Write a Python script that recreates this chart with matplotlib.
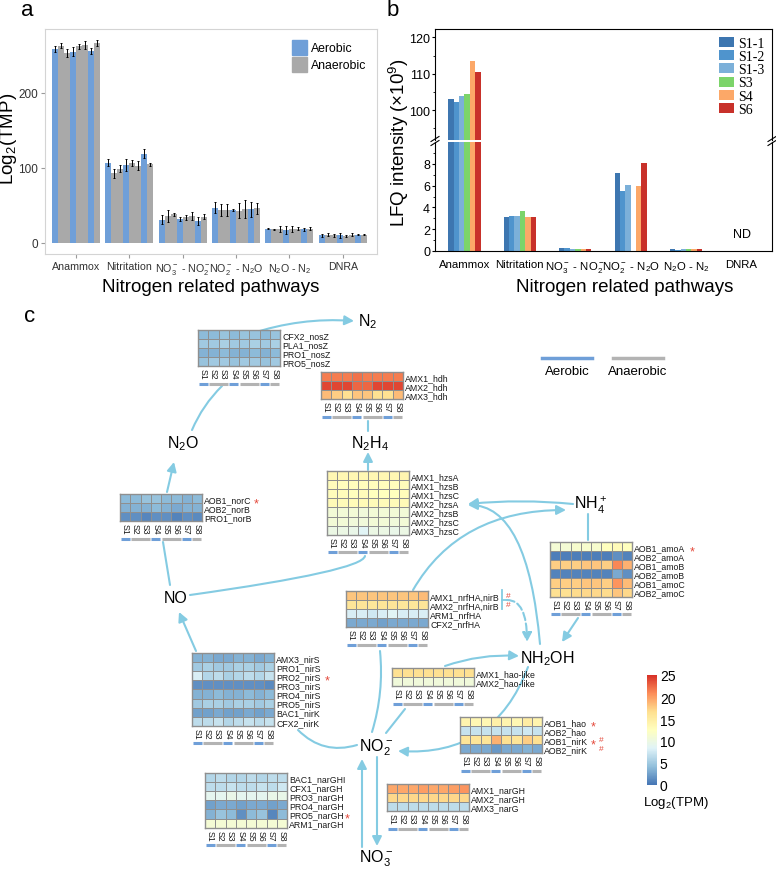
import numpy as np
import matplotlib
matplotlib.use('Agg')
import matplotlib.pyplot as plt
from matplotlib.colors import LinearSegmentedColormap, Normalize
from matplotlib.cm import ScalarMappable
from matplotlib.patches import Patch
from matplotlib.lines import Line2D

plt.rcParams['font.family'] = ['Liberation Sans', 'DejaVu Sans']
plt.rcParams['mathtext.fontset'] = 'custom'
plt.rcParams['mathtext.rm'] = 'Liberation Sans'
plt.rcParams['mathtext.it'] = 'Liberation Sans:italic'
plt.rcParams['mathtext.bf'] = 'Liberation Sans:bold'

# ---------------- data ----------------
pathways = ['Anammox', 'Nitritation', r'NO$_3^-$ - NO$_2^-$', r'NO$_2^-$ - N$_2$O',
            r'N$_2$O - N$_2$', 'DNRA']
samples = ['S1', 'S2', 'S3', 'S4', 'S5', 'S6', 'S7', 'S8']
conditions = ['Aerobic', 'Anaerobic', 'Anaerobic', 'Aerobic',
              'Anaerobic', 'Anaerobic', 'Aerobic', 'Anaerobic']

# panel a: summed log2(TPM) per pathway (rows) and sample (columns)
tpm_mean = [[258, 263, 253, 255, 262, 264, 256, 267],
            [107, 93, 99, 104, 106, 103, 119, 105],
            [31, 36, 38, 32, 34, 36, 29, 35],
            [47, 44, 44, 44, 43, 45, 45, 46],
            [19, 18, 19, 17, 18, 19, 18, 19],
            [10, 11, 10, 10, 9, 11, 11, 11]]
tpm_err = [[4, 3, 5, 6, 3, 5, 4, 4],
           [5, 6, 5, 8, 4, 6, 6, 2],
           [6, 8, 2, 3, 3, 5, 5, 3],
           [7, 8, 8, 1, 10, 12, 10, 7],
           [1, 1, 4, 5, 4, 2, 2, 2],
           [2, 2, 2, 3, 1, 2, 1, 1]]

# panel b: LFQ intensity (x1e9)
lfq_samples = ['S1-1', 'S1-2', 'S1-3', 'S3', 'S4', 'S6']
lfq_colors = ['#3d76b0', '#4f94cd', '#7cb0d9', '#7cd46a', '#fca868', '#c8312a']
lfq_vals = [[103.2, 102.2, 104.0, 104.5, 113.5, 110.5],
            [3.15, 3.2, 3.2, 3.65, 3.1, 3.1],
            [0.25, 0.25, 0.22, 0.2, 0.2, 0.2],
            [7.2, 5.5, 6.1, 0.0, 6.0, 8.1],
            [0.15, 0.13, 0.15, 0.15, 0.15, 0.17],
            [0, 0, 0, 0, 0, 0]]

# panel c heatmaps: log2(TPM) per gene (rows) and sample S1..S8
nosz_genes = ['CFX2_nosZ', 'PLA1_nosZ', 'PRO1_nosZ', 'PRO5_nosZ']
nosz_vals = [[4, 4, 4.5, 4, 4.5, 4.5, 4, 4.5],
             [5, 5, 5.5, 5, 5, 5.5, 5, 5.5],
             [3.5, 3.5, 4, 3.5, 3.5, 4, 3.5, 4],
             [4.5, 5, 5, 4.5, 5, 5, 4.5, 5]]
hdh_genes = ['AMX1_hdh', 'AMX2_hdh', 'AMX3_hdh']
hdh_vals = [[21.5, 21.5, 21.5, 22, 21.5, 21.5, 21.5, 21.5],
            [24, 24, 24, 22.5, 22.5, 24, 24, 24],
            [18.5, 17.5, 16.5, 18, 18, 16.5, 16.5, 18.5]]
nor_genes = ['AOB1_norC', 'AOB2_norB', 'PRO1_norB']
nor_vals = [[4, 4, 4.5, 4.5, 4, 4, 3.5, 4],
            [3.5, 3.5, 3.5, 4, 3.5, 3, 3.5, 3.5],
            [1.5, 1.5, 1, 1.5, 1.5, 0.8, 1.5, 1.2]]
hzs_genes = ['AMX1_hzsA', 'AMX1_hzsB', 'AMX1_hzsC', 'AMX2_hzsA', 'AMX2_hzsB', 'AMX2_hzsC', 'AMX3_hzsC']
hzs_vals = [[13.5, 13.5, 13.5, 13.5, 13.5, 13.5, 13.5, 13.8],
            [12.8, 12.6, 12.6, 12.6, 12.6, 12.6, 12.6, 12.8],
            [12.8, 12.8, 12.5, 12.8, 12.5, 12.5, 12.5, 12.8],
            [13.2, 13, 13, 13.2, 13, 13, 13, 13.2],
            [10.8, 10.8, 10.8, 10.5, 10.8, 10.8, 10.8, 10.8],
            [10.8, 10.8, 10.5, 10.5, 10.8, 10.8, 10.5, 10.8],
            [9.8, 9.8, 9.5, 8.5, 9.8, 9.8, 9.5, 9.8]]
amo_genes = ['AOB1_amoA', 'AOB2_amoA', 'AOB1_amoB', 'AOB2_amoB', 'AOB1_amoC', 'AOB2_amoC']
amo_vals = [[11, 11, 11.5, 11.5, 11.5, 12.5, 13, 12.5],
            [0.5, 0.5, 0.5, 0.5, 0.5, 0.5, 1.5, 0.8],
            [17.5, 17.5, 17.5, 18, 18, 17.5, 21, 19],
            [0.8, 0.8, 0.8, 0.8, 0.8, 0.8, 3, 1.5],
            [17.5, 17.5, 17.5, 18, 18, 17.5, 20.5, 18.5],
            [16.5, 16.5, 16.8, 17, 17, 16.8, 18, 17]]
nrf_genes = ['AMX1_nrfHA,nirB', 'AMX2_nrfHA,nirB', 'ARM1_nrfHA', 'CFX2_nrfHA']
nrf_vals = [[18, 18, 18, 18, 18, 18, 18, 18.5],
            [16, 16, 15.8, 16, 16, 15.8, 15.8, 16],
            [8, 8, 7.5, 8, 8.5, 8, 8, 8],
            [3, 3, 3, 2.5, 3, 3, 3, 3]]
haol_genes = ['AMX1_hao-like', 'AMX2_hao-like']
haol_vals = [[16.5, 16.5, 16.5, 16.5, 16.5, 16.5, 16.5, 16.5],
             [10.5, 10.5, 10.5, 10.5, 10.5, 10.5, 10.5, 10.5]]
nir_genes = ['AMX3_nirS', 'PRO1_nirS', 'PRO2_nirS', 'PRO3_nirS', 'PRO4_nirS', 'PRO5_nirS', 'BAC1_nirK', 'CFX2_nirK']
nir_vals = [[3.5, 3.5, 3, 3, 3.5, 3.5, 3, 3.5],
            [5, 5.5, 5, 5, 5.5, 5.5, 5, 5.5],
            [8, 6, 6.5, 5.5, 6, 6.5, 6, 7],
            [1.5, 1.5, 1.5, 1.5, 1.5, 1.5, 1.5, 1.2],
            [3.5, 3.5, 4, 3.5, 3.5, 4, 3.5, 4],
            [5, 5.5, 5.5, 5, 5.5, 5.5, 5, 5.5],
            [2.5, 2.5, 3, 2.5, 2.5, 3, 2.5, 3],
            [6.5, 6.5, 7, 6, 6.5, 7, 6.5, 7]]
hao_genes = ['AOB1_hao', 'AOB2_hao', 'AOB1_nirK', 'AOB2_nirK']
hao_vals = [[14, 13.5, 13.5, 14.5, 14, 13.5, 15, 14],
            [7, 7, 7, 7, 7, 7, 7.5, 7],
            [16, 16, 16, 19, 16.5, 16, 17.5, 16.5],
            [3, 3, 3, 2, 3, 3, 3.5, 3]]
narl_genes = ['BAC1_narGHI', 'CFX1_narGH', 'PRO3_narGH', 'PRO4_narGH', 'PRO5_narGH', 'ARM1_narGH']
narl_vals = [[6, 6.5, 6, 6, 6.5, 6, 6.5, 6.5],
             [6.5, 6.5, 7, 6.5, 6.5, 7, 6.5, 7.5],
             [9, 9, 9.5, 9, 9, 9, 9.5, 9.5],
             [2.5, 3, 3, 2.5, 3, 3, 2.5, 3],
             [3.5, 4.5, 4, 1.5, 4, 4.5, 1, 4],
             [11, 11, 11, 11, 11, 11, 11, 11]]
narr_genes = ['AMX1_narGH', 'AMX2_narGH', 'AMX3_narG']
narr_vals = [[19.5, 19.5, 19.5, 20, 19.5, 19.5, 20, 20.5],
             [17, 17, 17, 17, 17, 17, 17, 17],
             [6.5, 6.5, 6.5, 6.5, 6.5, 6.5, 6.5, 6.5]]

# ---------------- figure ----------------
W, H = 776, 870
fig = plt.figure(figsize=(W / 100, H / 100), dpi=100)

BLUE = '#6f9fd8'
GRAY = '#a9a9a9'
ACOL = '#84cbe2'
RED = '#e4483a'


def fbox(x0, y0, x1, y1):
    return [x0 / W, 1 - y1 / H, (x1 - x0) / W, (y1 - y0) / H]


def fline(xs, ys, **kw):
    fig.add_artist(Line2D([v / W for v in xs], [1 - v / H for v in ys],
                          transform=fig.transFigure, **kw))


# diagram layer in pixel coordinates, added first so heatmaps cover it
dg = fig.add_axes([0, 0, 1, 1])
dg.set_xlim(0, W)
dg.set_ylim(H, 0)
dg.axis('off')

x = np.arange(len(pathways))

# ---- panel a ----
ax = fig.add_axes(fbox(45, 30, 377, 255))
tm = np.array(tpm_mean)
te = np.array(tpm_err)
bw = 0.1125
for j in range(len(samples)):
    col = BLUE if conditions[j] == 'Aerobic' else GRAY
    ax.bar(x + (j - 3.5) * bw, tm[:, j], bw, yerr=te[:, j], color=col,
           error_kw=dict(ecolor='black', elinewidth=0.7, capsize=1, capthick=0.7))
ax.set_xlim(-0.58, 5.64)
ax.set_ylim(-15, 285)
ax.set_yticks([0, 100, 200])
ax.set_xticks(x)
ax.set_xticklabels(pathways, fontsize=7.7)
ax.tick_params(axis='y', labelsize=8.5)
ax.tick_params(color='#9a9a9a', length=3, labelcolor='#333333', pad=2)
for s in ax.spines.values():
    s.set_color('#d4d4d4')
ax.legend(handles=[Patch(color=BLUE, label='Aerobic'), Patch(color=GRAY, label='Anaerobic')],
          loc='upper right', bbox_to_anchor=(1.0, 1.0), frameon=False, fontsize=8.8,
          handlelength=1.25, handleheight=1.5, labelspacing=0.15, handletextpad=0.3)
fig.text(9 / W, 1 - 139 / H, 'Log$_2$(TMP)', rotation=90, fontsize=13.5, ha='center', va='center')
fig.text(211 / W, 1 - 287 / H, 'Nitrogen related pathways', fontsize=13.5, ha='center', va='center')

# ---- panel b (broken axis) ----
lv = np.array(lfq_vals)
axt = fig.add_axes(fbox(435, 30, 772, 141))
axb = fig.add_axes(fbox(435, 143, 772, 252))
bw2 = 0.097
for a_ in (axt, axb):
    for j, s in enumerate(lfq_samples):
        a_.bar(x + (j - 2.5) * bw2, lv[:, j], bw2, color=lfq_colors[j], label=s)
    a_.set_xlim(-0.53, 5.55)
    for s in a_.spines.values():
        s.set_linewidth(0.8)
    a_.tick_params(labelsize=9, length=2.5, pad=1)
    a_.tick_params(which='minor', length=1.8)
axt.set_ylim(91.8, 122.3)
axt.set_yticks([100, 110, 120])
axt.set_yticks([95, 105, 115], minor=True)
axt.set_xticks([])
axt.spines['bottom'].set_visible(False)
axb.set_ylim(0, 10)
axb.set_yticks([0, 2, 4, 6, 8])
axb.set_yticks([1, 3, 5, 7, 9], minor=True)
axb.spines['top'].set_visible(False)
axb.set_xticks(x)
axb.set_xticklabels(pathways, fontsize=8.2)
axb.tick_params(axis='x', length=0, pad=6)
axb.text(5.0, 1.6, 'ND', ha='center', va='center', fontsize=9)
axt.legend(loc='upper right', bbox_to_anchor=(1.0, 1.0), frameon=False,
           prop={'family': 'Liberation Serif', 'size': 10}, handlelength=1.1,
           handleheight=0.72, labelspacing=0.02, handletextpad=0.3,
           borderaxespad=0.35, borderpad=0.2)
for bx in (435, 772):
    for dy in (-2, 2):
        fline([bx - 4, bx + 4], [142 + dy + 2.5, 142 + dy - 2.5], color='black', lw=0.8)
fig.text(399 / W, 1 - 143 / H, 'LFQ intensity (×10$^9$)', rotation=90, fontsize=13.5,
         ha='center', va='center')
fig.text(625 / W, 1 - 287 / H, 'Nitrogen related pathways', fontsize=13.5, ha='center', va='center')

fig.text(27 / W, 1 - 11 / H, 'a', fontsize=16, ha='center', va='center')
fig.text(393 / W, 1 - 11 / H, 'b', fontsize=16, ha='center', va='center')
fig.text(30 / W, 1 - 316 / H, 'c', fontsize=16, ha='center', va='center')

# ---- panel c ----
cmap = LinearSegmentedColormap.from_list(
    'tpm', ['#4575b4', '#91bfdb', '#e0f3f8', '#ffffbf', '#fee090', '#fc8d59', '#d73027'])
CW, CH = 10.25, 9.1

runs = []
start = 0
for j in range(1, len(samples) + 1):
    if j == len(samples) or conditions[j] != conditions[start]:
        runs.append((start, j, conditions[start]))
        start = j


def heatmap(x0, y0, genes, vals):
    n = len(genes)
    hx = fig.add_axes(fbox(x0, y0, x0 + 8 * CW, y0 + n * CH))
    hx.pcolormesh(np.array(vals), cmap=cmap, vmin=0, vmax=25,
                  edgecolors='#8f8f8f', linewidth=0.7)
    hx.set_xlim(0, 8)
    hx.set_ylim(n, 0)
    hx.set_xticks(np.arange(8) + 0.5)
    hx.set_xticklabels(samples, rotation=270, fontsize=6.3, ha='center', va='top')
    hx.set_yticks(np.arange(n) + 0.5)
    hx.set_yticklabels(genes, fontsize=6.3)
    hx.yaxis.tick_right()
    hx.tick_params(length=0, pad=1.5, labelcolor='#1a1a1a')
    for s in hx.spines.values():
        s.set_color('#8f8f8f')
        s.set_linewidth(1.0)
    yb = n + 17.5 / CH
    for a0, a1, cond in runs:
        hx.plot([a0 + 0.06, a1 - 0.06], [yb, yb], color=BLUE if cond == 'Aerobic' else '#b3b3b3',
                lw=2.2, solid_capstyle='butt', clip_on=False)
    return hx


heatmap(198, 331, nosz_genes, nosz_vals)
heatmap(321, 373, hdh_genes, hdh_vals)
heatmap(120, 495, nor_genes, nor_vals)
heatmap(327, 472, hzs_genes, hzs_vals)
heatmap(550, 543, amo_genes, amo_vals)
heatmap(346, 592, nrf_genes, nrf_vals)
heatmap(392, 669, haol_genes, haol_vals)
heatmap(192, 654, nir_genes, nir_vals)
heatmap(460, 718, hao_genes, hao_vals)
heatmap(205, 774, narl_genes, narl_vals)
heatmap(387, 785, narr_genes, narr_vals)

# compounds
for label, cx, by in [('N$_2$', 368, 326), ('N$_2$O', 183, 448), ('N$_2$H$_4$', 370, 448),
                      ('NH$_4^+$', 591, 510), ('NO', 176, 603), ('NH$_2$OH', 547, 663),
                      ('NO$_2^-$', 376, 752), ('NO$_3^-$', 376, 863)]:
    dg.text(cx, by, label, fontsize=11.5, ha='center', va='baseline')


def arrow(p0, p1, conn='arc3,rad=0', head=True, ls='-'):
    style = '-|>,head_length=0.55,head_width=0.28' if head else '-'
    dg.annotate('', xy=p1, xytext=p0,
                arrowprops=dict(arrowstyle=style, color=ACOL, lw=1.5, connectionstyle=conn,
                                shrinkA=0, shrinkB=0, linestyle=ls))


arrow((192, 431), (222, 387), 'arc3,rad=-0.1', head=False)
arrow((250, 335), (354, 322), 'arc3,rad=-0.1')
arrow((368, 432), (368, 422), head=False)
arrow((368, 471), (368, 453))
arrow((170, 586), (163, 543), head=False)
arrow((167, 493), (174, 463))
arrow((196, 652), (179, 613))
arrow((357, 746), (298, 731), 'arc3,rad=-0.3', head=False)
arrow((190, 596), (365, 557), 'angle3,angleA=8,angleB=80', head=False)
arrow((573, 505), (468, 505), 'arc3,rad=0.05')
arrow((540, 645), (468, 506), 'angle3,angleA=95,angleB=0')
arrow((413, 591), (566, 511), 'angle3,angleA=60,angleB=0')
arrow((372, 733), (380, 652), 'arc3,rad=0.1', head=False)
arrow((386, 734), (405, 710), head=False)
arrow((445, 667), (519, 657), 'arc3,rad=-0.1')
arrow((588, 515), (588, 541), head=False)
arrow((578, 619), (562, 643))
arrow((528, 668), (398, 752), 'arc3,rad=-0.37')
arrow((362, 848), (362, 760))
arrow((377, 758), (377, 847))
arrow((507, 601), (527, 643), 'angle3,angleA=0,angleB=90', ls='--')
dg.plot([502, 502], [591, 610], color=ACOL, lw=1.3)
dg.plot([502, 507], [601, 601], color=ACOL, lw=1.3)

# red marks (significance)
for sx, sy in [(256, 500), (692, 548), (327, 677), (347, 815), (593, 723), (593, 741)]:
    fig.text(sx / W, 1 - (sy + 4) / H, '*', color=RED, fontsize=9, ha='center', va='center')
for sx, sy in [(601, 741), (601, 750), (508, 597), (508, 606)]:
    fig.text(sx / W, 1 - sy / H, '#', color=RED, fontsize=6, ha='center', va='center')

# condition legend
fline([542, 592], [359, 359], color=BLUE, lw=2.5)
fline([613, 663], [359, 359], color='#b3b3b3', lw=2.5)
fig.text(567 / W, 1 - 372 / H, 'Aerobic', fontsize=9.5, ha='center', va='center')
fig.text(638 / W, 1 - 372 / H, 'Anaerobic', fontsize=9.5, ha='center', va='center')

# colorbar
cax = fig.add_axes(fbox(647, 676, 657, 786))
cb = fig.colorbar(ScalarMappable(norm=Normalize(0, 25), cmap=cmap), cax=cax,
                  ticks=[0, 5, 10, 15, 20, 25])
cb.outline.set_visible(False)
cax.tick_params(length=0, labelsize=10, pad=2)
fig.text(676 / W, 1 - 803 / H, 'Log$_2$(TPM)', fontsize=9.5, ha='center', va='center')

fig.savefig('out.png', dpi=100)
